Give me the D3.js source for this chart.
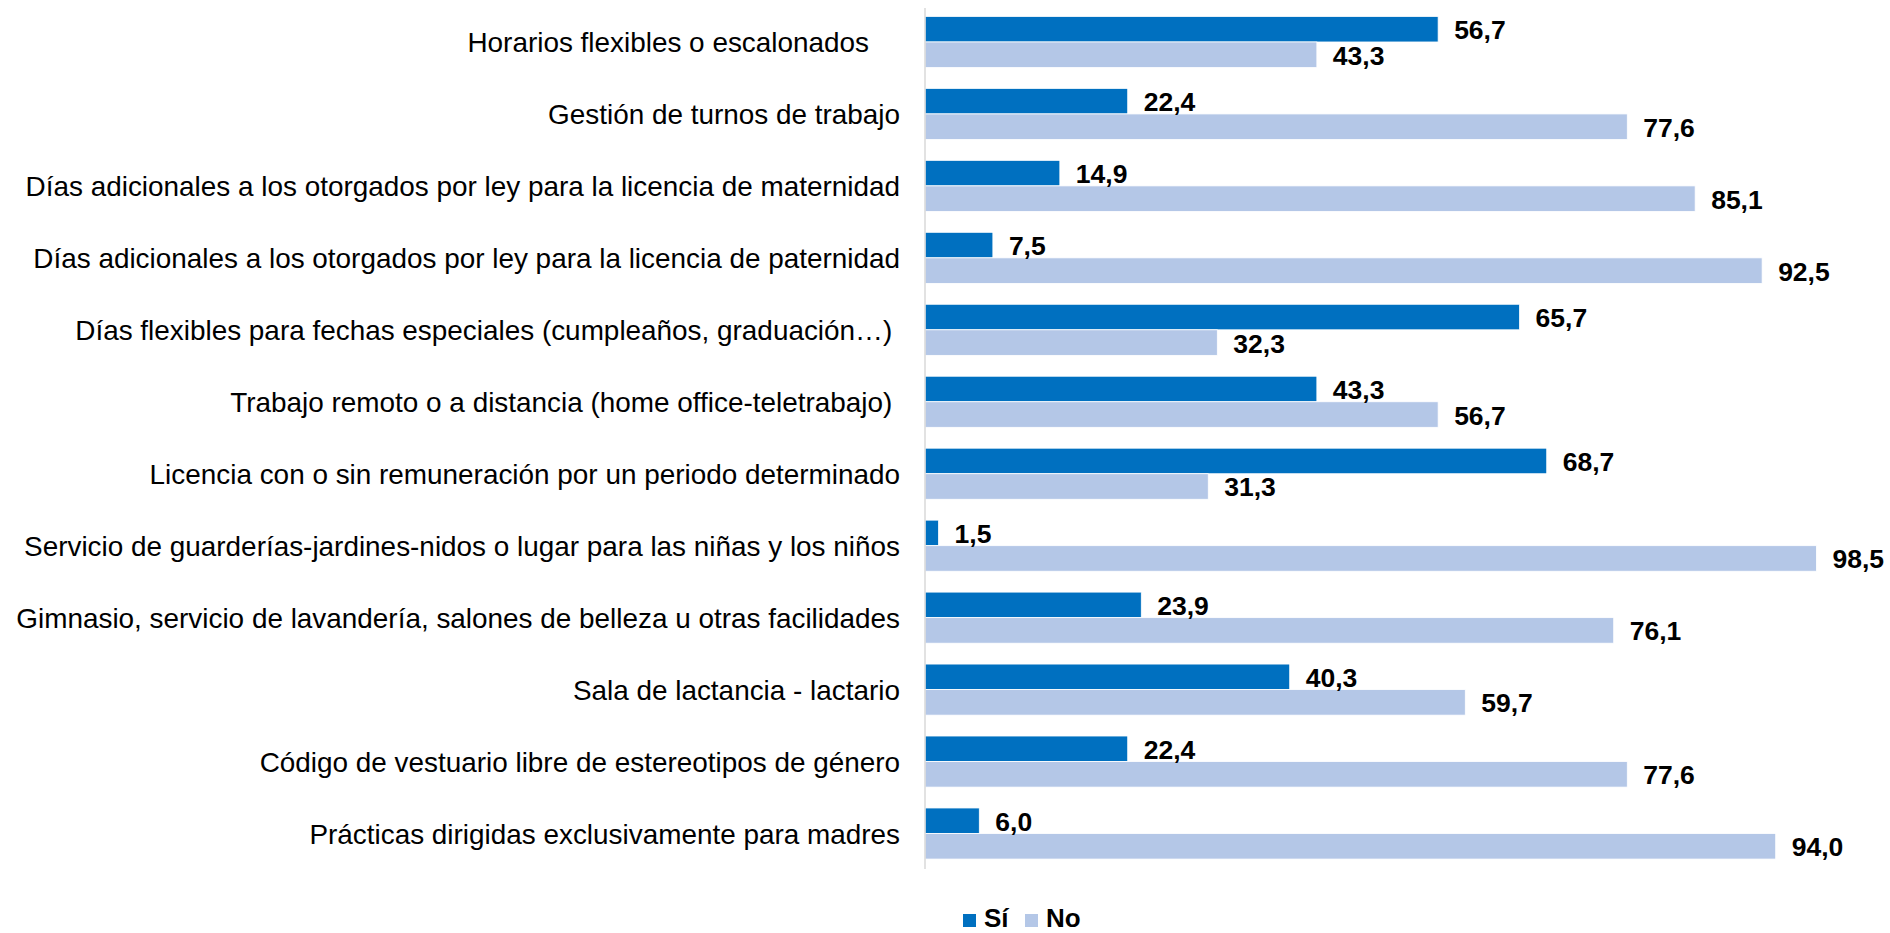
<!DOCTYPE html>
<html>
<head>
<meta charset="utf-8">
<script src="https://cdn.jsdelivr.net/npm/d3@7"></script>
<style>
  html, body { margin: 0; padding: 0; background: #fff; }
  svg { display: block; }
</style>
</head>
<body>
<svg id="chart"></svg>
<script>
// categories, top to bottom (trailing spaces kept as in the source labels)
const categories = [
  "Horarios flexibles o escalonados    ",
  "Gestión de turnos de trabajo",
  "Días adicionales a los otorgados por ley para la licencia de maternidad",
  "Días adicionales a los otorgados por ley para la licencia de paternidad",
  "Días flexibles para fechas especiales (cumpleaños, graduación…) ",
  "Trabajo remoto o a distancia (home office-teletrabajo) ",
  "Licencia con o sin remuneración por un periodo determinado",
  "Servicio de guarderías-jardines-nidos o lugar para las niñas y los niños",
  "Gimnasio, servicio de lavandería, salones de belleza u otras facilidades",
  "Sala de lactancia - lactario",
  "Código de vestuario libre de estereotipos de género",
  "Prácticas dirigidas exclusivamente para madres"
];
const siValues = [56.7, 22.4, 14.9, 7.5, 65.7, 43.3, 68.7, 1.5, 23.9, 40.3, 22.4, 6.0];
const noValues = [43.3, 77.6, 85.1, 92.5, 32.3, 56.7, 31.3, 98.5, 76.1, 59.7, 77.6, 94.0];
const seriesNames = ["Sí", "No"];
const seriesColors = ["#0070C0", "#B4C7E7"];

const W = 1890, H = 933;
const fontFamily = "'Liberation Sans', Arial, sans-serif";

const svg = d3.select("#chart")
  .attr("width", W)
  .attr("height", H)
  .style("font-family", fontFamily);

const data = categories.map((c, i) => ({
  category: c,
  values: [
    { key: "Sí", value: siValues[i] },
    { key: "No", value: noValues[i] }
  ]
}));

const xScale = d3.scaleLinear().domain([0, 100]).range([925, 1830]);

const yScale = d3.scaleBand()
  .domain(categories)
  .range([6, 869.5])
  .paddingInner(0.29)
  .paddingOuter(0.145);

const ySub = d3.scaleBand()
  .domain(seriesNames)
  .range([0, yScale.bandwidth()]);

const color = d3.scaleOrdinal().domain(seriesNames).range(seriesColors);
const fmt = v => d3.format(".1f")(v).replace(".", ",");

// bars
const groups = svg.selectAll(".cat")
  .data(data)
  .enter().append("g")
  .attr("class", "cat")
  .attr("transform", d => `translate(0,${yScale(d.category)})`);

groups.selectAll("rect")
  .data(d => d.values)
  .enter().append("rect")
  .attr("x", xScale(0))
  .attr("y", d => ySub(d.key))
  .attr("width", d => xScale(d.value) - xScale(0))
  .attr("height", ySub.bandwidth())
  .attr("fill", d => color(d.key))
  .attr("stroke", "#ffffff")
  .attr("stroke-width", 0.8);

// value labels
groups.selectAll("text.val")
  .data(d => d.values)
  .enter().append("text")
  .attr("class", "val")
  .attr("x", d => xScale(d.value) + 16)
  .attr("y", d => ySub(d.key) + ySub.bandwidth() / 2 + 1)
  .attr("dominant-baseline", "central")
  .style("font-size", "26.5px")
  .style("font-weight", "bold")
  .style("fill", "#000")
  .text(d => fmt(d.value));

// vertical axis line (no ticks)
svg.append("line")
  .attr("x1", xScale(0))
  .attr("x2", xScale(0))
  .attr("y1", 8)
  .attr("y2", 869)
  .attr("stroke", "#d9d9d9")
  .attr("stroke-width", 1.5);

// category labels
svg.selectAll("text.cat-label")
  .data(categories)
  .enter().append("text")
  .attr("class", "cat-label")
  .attr("x", xScale(0) - 25)
  .attr("y", d => yScale(d) + yScale.bandwidth() / 2 + 1)
  .attr("text-anchor", "end")
  .attr("dominant-baseline", "central")
  .style("white-space", "pre")
  .style("font-size", "27.9px")
  .style("fill", "#000")
  .text(d => d);

// legend
const legendX = [963, 1025];
const legend = svg.selectAll(".legend")
  .data(seriesNames)
  .enter().append("g")
  .attr("class", "legend")
  .attr("transform", (d, i) => `translate(${legendX[i]},914)`);

legend.append("rect")
  .attr("width", 13)
  .attr("height", 13)
  .attr("fill", d => color(d));

legend.append("text")
  .attr("x", 21)
  .attr("y", 13)
  .style("font-size", "26px")
  .style("font-weight", "bold")
  .text(d => d);
</script>
</body>
</html>
